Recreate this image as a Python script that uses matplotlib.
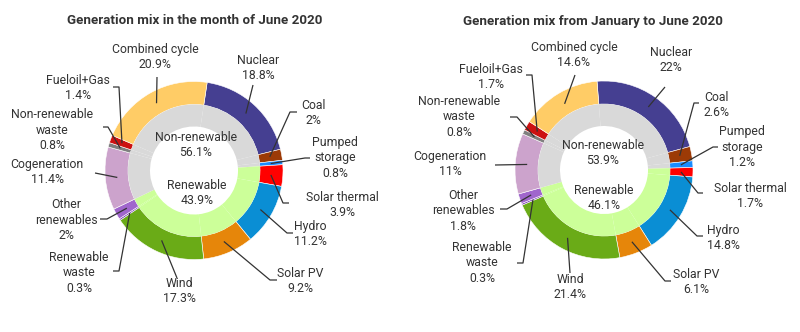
import numpy as np
from matplotlib import pyplot as plt

plt.rcParams['font.family'] = ['Roboto', 'DejaVu Sans']

# sources, clockwise starting at Nuclear
sources = ['Nuclear', 'Coal', 'Pumped\nstorage', 'Solar thermal', 'Hydro', 'Solar PV', 'Wind',
           'Renewable\nwaste', 'Other\nrenewables', 'Cogeneration', 'Non-renewable\nwaste',
           'Fueloil+Gas', 'Combined cycle']
renewable = [0, 0, 0, 1, 1, 1, 1, 1, 1, 0, 0, 0, 0]
june = [18.8, 2, 0.8, 3.9, 11.2, 9.2, 17.3, 0.3, 2, 11.4, 0.8, 1.4, 20.9]
jan_jun = [22, 2.6, 1.2, 1.7, 14.8, 6.1, 21.4, 0.3, 1.8, 11, 0.8, 1.7, 14.6]

colors = ['#453f91', '#9c3a06', '#1a8cff', '#ff0000', '#0a8ed4', '#e6860a', '#6aab17',
          '#7a3fb0', '#a066cc', '#cca3cc', '#7f7f7f', '#cc1111', '#ffcc66']
grp_colors = ['#d9d9d9', '#ccff99']

titles = ['Generation mix in the month of June 2020', 'Generation mix from January to June 2020']

H = 332
txt = '#333333'

# layout in pixels (y from top): centre, first-wedge offset, label spots, leader elbows
layouts = [
    dict(c=(194, 170.5), off=8.5, tx=195,
         lab=[(258, 68), (313, 113), (335, 158), (342, 205), (310, 234), (300, 281), (179, 291),
              (79, 273), (66, 220), (47, 172), (52, 130), (78, 88), (155, 57)],
         elb=[(253, 85, 0), (290, 112, 7), (305, 158, 5), (283, 203, 6), (287, 233, 6),
              (270, 280, 7), (177, 278, 0), (119, 271, -6), (107, 219, -7), (95, 173, 0),
              (108, 127, -5), (119, 87, -6), (157, 77, 0)],
         mid=(196, 145, 193)),
    dict(c=(604, 170), off=-4.5, tx=593,
         lab=[(671, 60), (716, 105), (742, 147), (750, 196), (723, 238), (696, 282), (570, 287),
              (482, 263), (463, 211), (450, 164), (459, 117), (491, 77), (574, 55)],
         elb=[(665, 87, 0), (694, 103, 5), (713, 147, 5), (698, 193, 5), (697, 236, 6),
              (665, 281, 6), (570, 273, 0), (523, 263, -6), (507, 209, -7), (495, 165, 0),
              (517, 117, -7), (532, 75, -6), (575, 75, 0)],
         mid=(603, 153, 198)),
]

fig = plt.figure(figsize=(8, 3.32), dpi=100)
ax = fig.add_axes([0, 0, 1, 1])

for data, lay, title in zip([june, jan_jun], layouts, titles):
    cx, cy = lay['c'][0], H - lay['c'][1]
    outer, _ = ax.pie(data, colors=colors, radius=89, center=(cx, cy),
                      startangle=90 - lay['off'], counterclock=False,
                      wedgeprops=dict(width=23, edgecolor='white', linewidth=0.4))
    ax.pie(data, colors=[grp_colors[r] for r in renewable], radius=66, center=(cx, cy),
           startangle=90 - lay['off'], counterclock=False,
           wedgeprops=dict(width=22, edgecolor='none'))

    for w, name, v, (lx, ly), (ex, ey, hk) in zip(outer, sources, data, lay['lab'], lay['elb']):
        a = np.deg2rad((w.theta1 + w.theta2) / 2)
        sx, sy = cx + 77 * np.cos(a), cy + 77 * np.sin(a)
        xs = [sx, ex] + ([ex + hk] if hk else [])
        ys = [sy, H - ey] + ([H - ey] if hk else [])
        ax.plot(xs, ys, color='#333333', lw=0.9, solid_capstyle='butt')
        ax.text(lx, H - ly, f'{name}\n{v:g}%', ha='center', va='center', fontsize=8.8,
                color=txt, linespacing=1.25)

    nr = sum(v for v, r in zip(data, renewable) if not r)
    rn = sum(v for v, r in zip(data, renewable) if r)
    mx, my1, my2 = lay['mid']
    ax.text(mx, H - my1, f'Non-renewable\n{nr:.1f}%', ha='center', va='center',
            fontsize=8.8, color=txt, linespacing=1.25)
    ax.text(mx + 1, H - my2, f'Renewable\n{rn:.1f}%', ha='center', va='center',
            fontsize=8.8, color=txt, linespacing=1.25)
    ax.text(lay['tx'], H - 21, title, ha='center', va='center', fontsize=9.6,
            fontweight='bold', color=txt)

ax.set_xlim(0, 800)
ax.set_ylim(0, H)
ax.set_aspect('equal')
ax.axis('off')

fig.savefig('out.png', dpi=100, facecolor='white')
